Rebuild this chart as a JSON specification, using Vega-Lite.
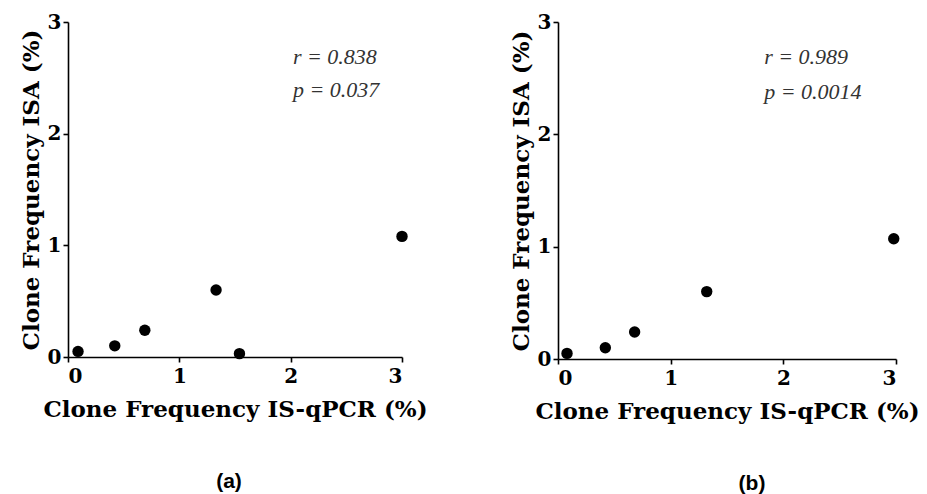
{
  "$schema": "https://vega.github.io/schema/vega-lite/v6.json",
  "background": "white",
  "padding": {"left": 20, "top": 12, "right": 5, "bottom": 5},
  "spacing": 82,
  "datasets": {
    "a": [
      {"qpcr": 0.09, "isa": 0.05},
      {"qpcr": 0.42, "isa": 0.10},
      {"qpcr": 0.69, "isa": 0.24},
      {"qpcr": 1.33, "isa": 0.60},
      {"qpcr": 1.54, "isa": 0.03},
      {"qpcr": 3.0, "isa": 1.08}
    ],
    "b": [
      {"qpcr": 0.08, "isa": 0.05},
      {"qpcr": 0.42, "isa": 0.10},
      {"qpcr": 0.68, "isa": 0.24},
      {"qpcr": 1.32, "isa": 0.60},
      {"qpcr": 2.98, "isa": 1.07}
    ]
  },
  "config": {
    "view": {"stroke": null},
    "axis": {
      "grid": false,
      "domainColor": "black",
      "domainWidth": 1.6,
      "tickColor": "black",
      "tickWidth": 1.6,
      "tickSize": 5,
      "labelFont": "DejaVu Serif",
      "labelFontWeight": "bold",
      "labelFontSize": 20,
      "labelColor": "black",
      "titleFont": "DejaVu Serif",
      "titleFontWeight": "bold",
      "titleFontSize": 23,
      "titleColor": "black"
    },
    "axisX": {"labelPadding": 4, "titlePadding": 12},
    "axisY": {"labelPadding": 2, "titlePadding": 4},
    "title": {
      "orient": "bottom",
      "font": "Liberation Sans",
      "fontWeight": "bold",
      "fontSize": 21,
      "color": "black",
      "offset": 50,
      "frame": "group"
    }
  },
  "hconcat": [
    {
      "width": 334,
      "height": 335,
      "title": {"text": "(a)", "dx": -6},
      "data": {"name": "a"},
      "layer": [
        {
          "mark": {"type": "point", "filled": true, "size": 130, "color": "black", "opacity": 1},
          "encoding": {
            "x": {"field": "qpcr", "type": "quantitative", "scale": {"domain": [0, 3], "nice": false}, "axis": {"values": [0, 1, 2, 3], "format": "d"}, "title": "Clone Frequency IS-qPCR (%)"},
            "y": {"field": "isa", "type": "quantitative", "scale": {"domain": [0, 3], "nice": false}, "axis": {"values": [0, 1, 2, 3], "format": "d"}, "title": "Clone Frequency ISA (%)"}
          }
        },
        {
          "data": {"values": [
            {"label": "r = 0.838", "tx": 2.02, "ty": 2.69},
            {"label": "p = 0.037", "tx": 2.02, "ty": 2.39}
          ]},
          "mark": {"type": "text", "align": "left", "baseline": "middle", "font": "Liberation Serif", "fontStyle": "italic", "fontSize": 22, "color": "#333333"},
          "encoding": {
            "x": {"field": "tx", "type": "quantitative"},
            "y": {"field": "ty", "type": "quantitative"},
            "text": {"field": "label"}
          }
        }
      ]
    },
    {
      "width": 338,
      "height": 337,
      "title": {"text": "(b)", "dx": 25},
      "data": {"name": "b"},
      "layer": [
        {
          "mark": {"type": "point", "filled": true, "size": 130, "color": "black", "opacity": 1},
          "encoding": {
            "x": {"field": "qpcr", "type": "quantitative", "scale": {"domain": [0, 3], "nice": false}, "axis": {"values": [0, 1, 2, 3], "format": "d"}, "title": "Clone Frequency IS-qPCR (%)"},
            "y": {"field": "isa", "type": "quantitative", "scale": {"domain": [0, 3], "nice": false}, "axis": {"values": [0, 1, 2, 3], "format": "d"}, "title": "Clone Frequency ISA (%)"}
          }
        },
        {
          "data": {"values": [
            {"label": "r = 0.989", "tx": 1.83, "ty": 2.69},
            {"label": "p = 0.0014", "tx": 1.83, "ty": 2.38}
          ]},
          "mark": {"type": "text", "align": "left", "baseline": "middle", "font": "Liberation Serif", "fontStyle": "italic", "fontSize": 22, "color": "#333333"},
          "encoding": {
            "x": {"field": "tx", "type": "quantitative"},
            "y": {"field": "ty", "type": "quantitative"},
            "text": {"field": "label"}
          }
        }
      ]
    }
  ]
}
